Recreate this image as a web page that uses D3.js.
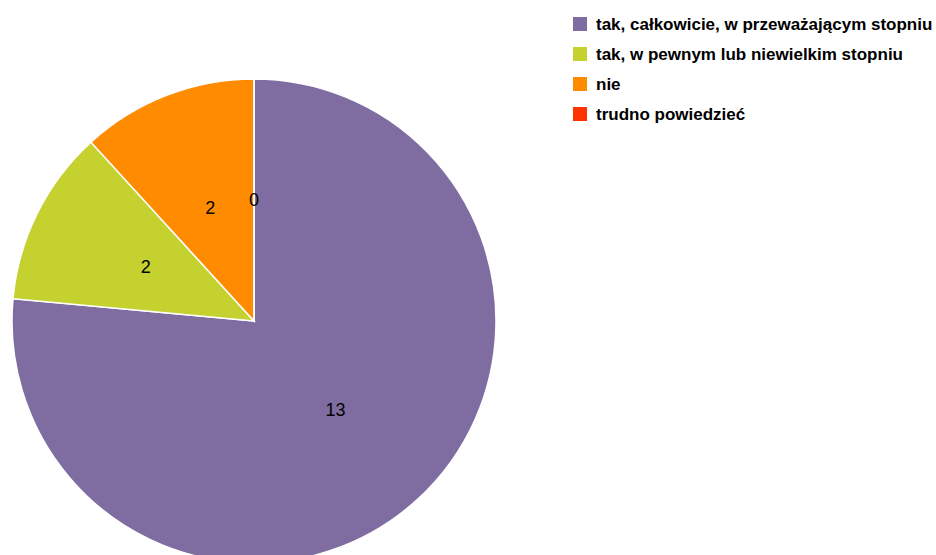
<!DOCTYPE html>
<html>
<head>
<meta charset="utf-8">
<script src="https://cdn.jsdelivr.net/npm/d3@7"></script>
<style>
  body { margin: 0; background: #fff; }
  svg { display: block; font-family: "Liberation Sans", Arial, sans-serif; }
  .legend text { font-size: 17px; font-weight: bold; fill: #000; }
  .value { font-size: 18px; fill: #000; text-anchor: middle; dominant-baseline: central; }
</style>
</head>
<body>
<svg width="936" height="555"></svg>
<script>
var categories = ["tak, całkowicie, w przeważającym stopniu",
                  "tak, w pewnym lub niewielkim stopniu",
                  "nie",
                  "trudno powiedzieć"],
    values = [13, 2, 2, 0],
    colors = ["#7f6da1", "#c4d12f", "#ff8c00", "#ff3300"];

var svg = d3.select("svg"),
    radius = 242,
    cx = 254, cy = 321;

var pie = d3.pie().sort(null).value(function(d) { return d; });
var arc = d3.arc().innerRadius(0).outerRadius(radius);
var labelArc = d3.arc().innerRadius(radius / 2).outerRadius(radius / 2);

var g = svg.append("g")
    .attr("transform", "translate(" + cx + "," + cy + ")");

var slices = g.selectAll(".slice")
    .data(pie(values))
  .enter().append("g")
    .attr("class", "slice");

slices.append("path")
    .attr("d", arc)
    .style("fill", function(d, i) { return colors[i]; })
    .style("stroke", "#fff")
    .style("stroke-width", 1.5);

slices.append("text")
    .attr("class", "value")
    .attr("transform", function(d) { return "translate(" + labelArc.centroid(d) + ")"; })
    .text(function(d) { return d.data; });

var legend = svg.append("g")
    .attr("class", "legend")
    .attr("transform", "translate(573,17)");

var item = legend.selectAll("g")
    .data(categories)
  .enter().append("g")
    .attr("transform", function(d, i) { return "translate(0," + i * 30 + ")"; });

item.append("rect")
    .attr("width", 14)
    .attr("height", 14)
    .style("fill", function(d, i) { return colors[i]; });

item.append("text")
    .attr("x", 23)
    .attr("y", 7)
    .attr("dy", "0.35em")
    .text(function(d) { return d; });
</script>
</body>
</html>
